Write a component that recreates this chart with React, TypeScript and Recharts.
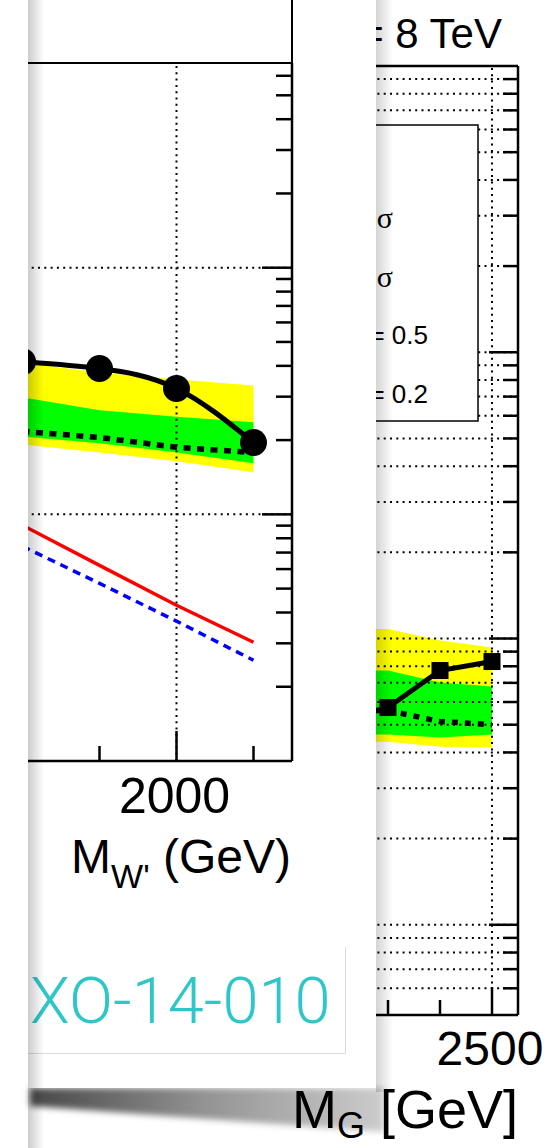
import React from "react";
import { ComposedChart, Area, Line, XAxis, YAxis, ReferenceLine } from "recharts";

// W' limits (front panel)
const wMass = [1800, 1900, 2000, 2100];
const wObserved = [0.0416, 0.039, 0.0324, 0.01955];
const wExpected = [0.0217, 0.0205, 0.0187, 0.0178];
const wExp1Low = [0.0207, 0.0194, 0.0178, 0.0161];
const wExp1High = [0.0298, 0.0264, 0.0249, 0.0236];
const wExp2Low = [0.0192, 0.0178, 0.0164, 0.0148];
const wExp2High = [0.0412, 0.0376, 0.0352, 0.0333];
const wTheoryA = [0.00903, 0.00621, 0.00428, 0.00303];
const wTheoryB = [0.00742, 0.00525, 0.00369, 0.00256];
const wXTicks = [1800, 1900, 2000, 2100];
const wYTicks = [
  0.002, 0.003, 0.004, 0.005, 0.006, 0.007, 0.008, 0.009,
  0.01, 0.02, 0.03, 0.04, 0.05, 0.06, 0.07, 0.08, 0.09,
  0.1, 0.2, 0.3, 0.4, 0.5, 0.6,
];

// bulk graviton limits (plot behind)
const gMass = [2200, 2300, 2400, 2500];
const gObserved = [0.0513, 0.0574, 0.0773, 0.0831];
const gExpected = [0.056, 0.056, 0.0513, 0.05];
const gExp1Low = [0.0462, 0.0462, 0.0451, 0.0462];
const gExp1High = [0.0773, 0.0773, 0.0702, 0.068];
const gExp2Low = [0.0436, 0.0436, 0.0419, 0.0416];
const gExp2High = [0.108, 0.108, 0.0984, 0.093];
const gXTicks = [2200, 2300, 2400, 2500];
const gYTicks = [
  0.006, 0.007, 0.008, 0.009,
  0.01, 0.02, 0.03, 0.04, 0.05, 0.06, 0.07, 0.08, 0.09,
  0.1, 0.2, 0.3, 0.4, 0.5, 0.6, 0.7, 0.8, 0.9,
  1, 2, 3, 4, 5, 6, 7, 8, 9,
];

const FONT = "'Liberation Sans', Arial, Helvetica, sans-serif";

const wRows = wMass.map((mass, i) => ({
  mass,
  observed: wObserved[i],
  expected: wExpected[i],
  band1: [wExp1Low[i], wExp1High[i]],
  band2: [wExp2Low[i], wExp2High[i]],
  hvtA: wTheoryA[i],
  hvtB: wTheoryB[i],
}));

const gRows = gMass.map((mass, i) => ({
  mass,
  observed: gObserved[i],
  expected: gExpected[i],
  band1: [gExp1Low[i], gExp1High[i]],
  band2: [gExp2Low[i], gExp2High[i]],
}));

const isDecade = (v: number) =>
  Math.abs(Math.log10(v) - Math.round(Math.log10(v))) < 1e-9;

// front chart geometry (chart coords)
const FG = { w: 368, h: 900, top: 63, right: 308, bottom: 761 };
// back chart geometry (chart placed at page x = 250)
const BG = { w: 297, h: 1148, left: 60, top: 66, right: 268, bottom: 1015 };

const fgYTick = (props: any) => {
  const len = isDecade(props.payload.value) ? 30 : 16;
  return (
    <line x1={FG.right - len} x2={FG.right} y1={props.y} y2={props.y} stroke="#000" strokeWidth={2.5} />
  );
};

const fgXTick = (props: any) => {
  const { x, payload } = props;
  const major = payload.value % 500 === 0;
  return (
    <g>
      <line x1={x} x2={x} y1={FG.bottom} y2={FG.bottom - (major ? 30 : 15)} stroke="#000" strokeWidth={2.5} />
      {major && (
        <text x={x - 2} y={813} textAnchor="middle" fontSize={50} fontFamily={FONT} fill="#000">
          {payload.value}
        </text>
      )}
    </g>
  );
};

const bgYTick = (props: any) => {
  const len = isDecade(props.payload.value) ? 29 : 15;
  return (
    <line x1={BG.right - len} x2={BG.right} y1={props.y} y2={props.y} stroke="#000" strokeWidth={2.5} />
  );
};

const bgXTick = (props: any) => {
  const { x, payload } = props;
  const major = payload.value % 500 === 0;
  return (
    <g>
      <line x1={x} x2={x} y1={BG.bottom} y2={BG.bottom - (major ? 28 : 15)} stroke="#000" strokeWidth={2.5} />
      {major && (
        <text x={x - 2} y={1065} textAnchor="middle" fontSize={48} fontFamily={FONT} fill="#000">
          {payload.value}
        </text>
      )}
    </g>
  );
};

const bgTopTick = (props: any) => {
  const { x, payload } = props;
  const major = payload.value % 500 === 0;
  return (
    <line x1={x} x2={x} y1={BG.top} y2={BG.top + (major ? 29 : 14)} stroke="#000" strokeWidth={2.5} />
  );
};

const squareDot = (props: any) => {
  const { cx, cy, index } = props;
  if (cx == null || cy == null) return <g key={index} />;
  return <rect key={index} x={cx - 8.5} y={cy - 8.5} width={17} height={17} fill="#000" />;
};

const fgTitle = () => (
  <text x={307} y={873} textAnchor="end" fontSize={48} fontFamily={FONT} fill="#000">
    M
    <tspan fontSize={34} dy={15}>W'</tspan>
    <tspan dy={-15}>{" (GeV)"}</tspan>
  </text>
);

const bgTitle = () => (
  <text x={BG.right} y={1128} textAnchor="end" fontSize={54} fontFamily={FONT} fill="#000">
    M
    <tspan fontSize={36} dy={10}>G</tspan>
    <tspan dy={-10}>{" [GeV]"}</tspan>
  </text>
);

function GravitonPlot() {
  return (
    <ComposedChart
      width={BG.w}
      height={BG.h}
      data={gRows}
      margin={{ top: BG.top, right: BG.w - BG.right, bottom: BG.h - BG.bottom, left: BG.left }}
    >
      <XAxis
        dataKey="mass"
        type="number"
        domain={[2150, 2550]}
        ticks={gXTicks}
        interval={0}
        mirror
        tickLine={false}
        tick={bgXTick}
        axisLine={{ stroke: "#000", strokeWidth: 2.5 }}
        label={bgTitle}
      />
      <XAxis
        xAxisId="top"
        orientation="top"
        type="number"
        domain={[2150, 2550]}
        ticks={gXTicks}
        interval={0}
        mirror
        tickLine={false}
        tick={bgTopTick}
        axisLine={{ stroke: "#000", strokeWidth: 2.5 }}
      />
      <YAxis
        orientation="right"
        mirror
        scale="log"
        domain={[0.00484, 10]}
        allowDataOverflow
        ticks={gYTicks}
        interval={0}
        tickLine={false}
        tick={bgYTick}
        axisLine={{ stroke: "#000", strokeWidth: 2.5 }}
      />
      <Area dataKey="band2" type="linear" stroke="none" fill="#ffff00" fillOpacity={1} dot={false} activeDot={false} isAnimationActive={false} />
      <Area dataKey="band1" type="linear" stroke="none" fill="#00ff00" fillOpacity={1} dot={false} activeDot={false} isAnimationActive={false} />
      {gYTicks.map((v) => (
        <ReferenceLine key={v} y={v} stroke="#000" strokeWidth={2} strokeDasharray="2 4.3" />
      ))}
      <ReferenceLine x={2500} stroke="#000" strokeWidth={2} strokeDasharray="2 4.3" />
      <Line dataKey="expected" type="linear" stroke="#000" strokeWidth={5.5} strokeDasharray="6 7" dot={false} activeDot={false} isAnimationActive={false} />
      <Line dataKey="observed" type="linear" stroke="#000" strokeWidth={5} dot={squareDot} activeDot={false} isAnimationActive={false} />
    </ComposedChart>
  );
}

function WprimePlot() {
  return (
    <ComposedChart
      width={FG.w}
      height={FG.h}
      data={wRows}
      margin={{ top: FG.top, right: FG.w - FG.right, bottom: FG.h - FG.bottom, left: 0 }}
    >
      <XAxis
        dataKey="mass"
        type="number"
        domain={[1750, 2150]}
        ticks={wXTicks}
        interval={0}
        mirror
        tickLine={false}
        tick={fgXTick}
        axisLine={{ stroke: "#000", strokeWidth: 2.5 }}
        label={fgTitle}
      />
      <XAxis
        xAxisId="top"
        orientation="top"
        type="number"
        domain={[1750, 2150]}
        mirror
        tick={false}
        tickLine={false}
        axisLine={{ stroke: "#000", strokeWidth: 2 }}
      />
      <YAxis
        orientation="right"
        mirror
        scale="log"
        domain={[0.001, 0.676]}
        allowDataOverflow
        ticks={wYTicks}
        interval={0}
        tickLine={false}
        tick={fgYTick}
        axisLine={{ stroke: "#000", strokeWidth: 2.5 }}
      />
      <Area dataKey="band2" type="linear" stroke="none" fill="#ffff00" fillOpacity={1} dot={false} activeDot={false} isAnimationActive={false} />
      <Area dataKey="band1" type="linear" stroke="none" fill="#00ff00" fillOpacity={1} dot={false} activeDot={false} isAnimationActive={false} />
      <ReferenceLine y={0.1} stroke="#000" strokeWidth={2} strokeDasharray="2 4.3" />
      <ReferenceLine y={0.01} stroke="#000" strokeWidth={2} strokeDasharray="2 4.3" />
      <ReferenceLine x={2000} stroke="#000" strokeWidth={2} strokeDasharray="2 4.3" />
      <Line dataKey="hvtA" type="linear" stroke="#ff0000" strokeWidth={3.5} dot={false} activeDot={false} isAnimationActive={false} />
      <Line dataKey="hvtB" type="linear" stroke="#0000ff" strokeWidth={3.5} strokeDasharray="8 6" dot={false} activeDot={false} isAnimationActive={false} />
      <Line dataKey="expected" type="linear" stroke="#000" strokeWidth={5.5} strokeDasharray="7 6.5" dot={false} activeDot={false} isAnimationActive={false} />
      <Line
        dataKey="observed"
        type="natural"
        stroke="#000"
        strokeWidth={5}
        dot={{ r: 13.5, fill: "#000", stroke: "none" }}
        activeDot={false}
        isAnimationActive={false}
      />
    </ComposedChart>
  );
}

export default function App() {
  return (
    <div
      style={{
        position: "absolute",
        left: 0,
        top: 0,
        width: 547,
        height: 1148,
        overflow: "hidden",
        background: "#fff",
        fontFamily: FONT,
      }}
    >
      {/* plot behind */}
      <div style={{ position: "absolute", left: 250, top: 0 }}>
        <GravitonPlot />
      </div>
      <svg style={{ position: "absolute", left: 0, top: 0 }} width={547} height={1148}>
        <text x={502} y={48} textAnchor="end" fontSize={42} fontFamily={FONT} fill="#000">
          √s = 8 TeV
        </text>
        <rect x={290} y={125} width={188} height={296} fill="#fff" stroke="#000" strokeWidth={1.5} />
        <text x={393} y={228} textAnchor="end" fontSize={26} fontFamily={FONT} fill="#000">
          Expected ± 1<tspan fontSize={30} fontFamily="'Liberation Serif', serif">σ</tspan>
        </text>
        <text x={393} y={287} textAnchor="end" fontSize={26} fontFamily={FONT} fill="#000">
          Expected ± 2<tspan fontSize={30} fontFamily="'Liberation Serif', serif">σ</tspan>
        </text>
        <text x={428} y={344} textAnchor="end" fontSize={26} fontFamily={FONT} fill="#000">
          k̃ = 0.5
        </text>
        <text x={428} y={403} textAnchor="end" fontSize={26} fontFamily={FONT} fill="#000">
          k̃ = 0.2
        </text>
      </svg>

      {/* shadows of the front panel */}
      <div
        style={{
          position: "absolute",
          left: 376,
          top: 0,
          width: 17,
          height: 1092,
          background: "linear-gradient(to right, rgba(0,0,0,0.17), rgba(0,0,0,0))",
        }}
      />
      <svg style={{ position: "absolute", left: 0, top: 1070 }} width={420} height={78}>
        <defs>
          <linearGradient id="shade" x1="0" x2="1" y1="0" y2="0">
            <stop offset="0" stopColor="#000" stopOpacity={0.72} />
            <stop offset="0.5" stopColor="#000" stopOpacity={0.42} />
            <stop offset="1" stopColor="#000" stopOpacity={0.2} />
          </linearGradient>
          <filter id="soft">
            <feGaussianBlur stdDeviation="3" />
          </filter>
        </defs>
        <polygon points="30,18 384,18 384,62 30,36" fill="url(#shade)" filter="url(#soft)" />
      </svg>

      {/* front panel */}
      <div
        style={{
          position: "absolute",
          left: 28,
          top: 0,
          width: 348,
          height: 1088,
          background: "#fff",
          overflow: "hidden",
        }}
      >
        <div style={{ position: "absolute", left: -44, top: 0 }}>
          <WprimePlot />
        </div>
        <div style={{ position: "absolute", left: 262.75, top: 0, width: 2.5, height: 64, background: "#000" }} />
        <div
          style={{
            position: "absolute",
            left: -10,
            top: 947,
            width: 327,
            height: 106,
            borderRight: "1.5px solid #dcdcdc",
            borderBottom: "1.5px solid #dcdcdc",
          }}
        />
        <svg style={{ position: "absolute", left: 0, top: 0 }} width={348} height={1088}>
          <text x={2} y={1023} fontSize={65} fontWeight={300} fontFamily="Roboto, 'Liberation Sans', sans-serif" fill="#2fc6c8">
            XO-14-010
          </text>
        </svg>
      </div>
      <div
        style={{
          position: "absolute",
          left: 28,
          top: 0,
          width: 16,
          height: 1148,
          background: "linear-gradient(to right, rgba(0,0,0,0.2), rgba(0,0,0,0))",
        }}
      />
    </div>
  );
}
